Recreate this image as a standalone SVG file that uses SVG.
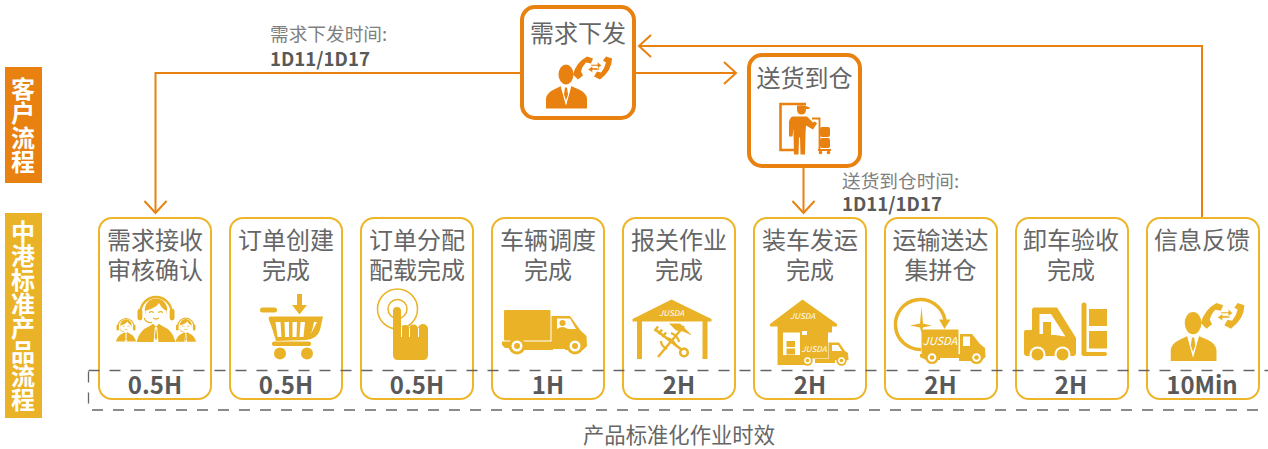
<svg xmlns="http://www.w3.org/2000/svg" width="1268" height="449" viewBox="0 0 1268 449">
<style>
text{font-family:"Noto Sans CJK SC","Noto Sans",sans-serif}
.lbl{font-size:24px;fill:#666;text-anchor:middle}
.dur{font-size:24px;font-weight:700;fill:#595959;text-anchor:middle}
.side{font-size:24px;font-weight:700;fill:#fff;writing-mode:vertical-rl}
.note{font-size:18.67px;fill:#7f7f7f}
.noteb{font-size:18.67px;font-weight:700;fill:#595959}
.cap{font-size:21.33px;fill:#666;text-anchor:middle}
.card{fill:#fff;stroke:#EDB527;stroke-width:2}
.cust{fill:#fff;stroke:#E8810F;stroke-width:4}
.y{fill:#EAB327}
.w{fill:#fff}
.o{fill:#E8810F}
.brand{font-size:8px;font-style:italic;fill:#fff;text-anchor:middle}
.conn{fill:none;stroke:#E8810F;stroke-width:2}
</style>
<defs>
<marker id="arr" markerUnits="userSpaceOnUse" markerWidth="28" markerHeight="28" refX="13" refY="12" orient="auto">
<path d="M1 1 L13 12 L1 23" fill="none" stroke="#E8810F" stroke-width="2"/>
</marker>
<symbol id="caller" viewBox="0 0 65 52" overflow="visible">
<ellipse cx="20" cy="18" rx="7.500" ry="10" fill="currentColor"/>
<path d="M0 52V42Q1 36 8 33L15 29.500 20 48 25 29.500 33 33Q40 36 41 42V52Z" fill="currentColor"/>
<path d="M14.500 29 20 49 25.500 29 24 28 20 31 16 28Z" fill="#fff"/>
<path d="M19 31h2l1 7-2 6-2-6Z" fill="currentColor"/>
<path d="M41 0 47 2 45 7 40 6Q36 10 35 15L37 19 32 23 27 18Q30 6 41 0Z" fill="currentColor"/>
<path d="M60 0 66 2Q66 14 54 23L48 20 51 15 55 16Q59 11 60 6L57 4Z" fill="currentColor"/>
<path d="M45 8h6.500v-2.500l4 3.500-4 3v-2.500H45ZM53 11.500h-6.500V9.500l-4.500 3.500 4.500 3v-2.500H53Z" fill="currentColor" stroke="#fff" stroke-width=".4"/>
</symbol>
<symbol id="agent" viewBox="0 0 40 50" overflow="visible">
<path d="M4 20A16 16 0 0 1 36 20" fill="none" stroke="#EAB327" stroke-width="2.400"/>
<rect x="1" y="16" width="5" height="12" rx="2.500" class="y"/>
<rect x="34" y="16" width="5" height="12" rx="2.500" class="y"/>
<ellipse cx="20" cy="17" rx="11.500" ry="11.500" class="y"/>
<path d="M9 18C13 17 20 15 23 10 25 14 28 17 31 18 31 25 26 31 20 31 14 31 9 25 9 18Z" class="w"/>
<path d="M13 20q2.500-2 4.500 0M22.500 20q2.500-2 4.500 0M17 25.500q3 2 6 0" fill="none" stroke="#EAB327" stroke-width="1.400"/>
<path d="M0 50Q3 38 13 34L17 31.500 20 34.500 23 31.500 27 34Q37 38 40 50Z" class="y"/>
<path d="M18.800 35h2.400l1.300 15h-5Z" class="w"/>
<path d="M19.700 36.500h.6l1 9-1.300 3-1.300-3Z" class="y"/>
<path d="M8 25.500Q9 31 16 30" fill="none" stroke="#EAB327" stroke-width="1.300"/>
</symbol>
<symbol id="wheel" viewBox="-9 -9 18 18" overflow="visible">
<circle r="8.500" class="y"/><circle r="5.500" class="w"/><circle r="3" class="y"/>
</symbol>
</defs>

<g id="side-customer">
<rect x="5" y="67" width="37" height="116" fill="#E8810F"/>
<text class="side" x="23" y="77" style="letter-spacing:.3px">客户流程</text>
</g>
<g id="side-product">
<rect x="5" y="213" width="37" height="205" fill="#EAB327"/>
<text class="side" x="23" y="220">中港标准产品流程</text>
</g>

<g id="connectors">
<path class="conn" d="M521 73H155.500V213" marker-end="url(#arr)"/>
<path class="conn" d="M634 73H736" marker-end="url(#arr)"/>
<path class="conn" d="M803.500 166V213" marker-end="url(#arr)"/>
<path class="conn" d="M1202 218V46H639" marker-end="url(#arr)"/>
</g>

<g id="note-demand"><text class="note" x="270" y="40.500">需求下发时间:</text><text class="noteb" x="270" y="65.500">1D11/1D17</text></g>
<g id="note-delivery"><text class="note" x="842" y="187.500">送货到仓时间:</text><text class="noteb" x="842" y="210.500">1D11/1D17</text></g>

<g id="node-demand">
<rect class="cust" x="522" y="7" width="112" height="111" rx="13"/>
<text class="lbl" x="578" y="41.500">需求下发</text>
<use href="#caller" x="546" y="56.500" width="65" height="52" style="color:#E8810F"/>
</g>

<g id="node-delivery">
<rect class="cust" x="749" y="55" width="111" height="111" rx="13"/>
<text class="lbl" x="804.500" y="86.500">送货到仓</text>
<path d="M806 104H780.500V150H796" fill="none" stroke="#E8810F" stroke-width="2.600"/>
<circle cx="801.500" cy="110" r="4.500" class="o"/><path d="M797 105.500h8l4.500 2v1.500h-12.500Z" class="o"/>
<path d="M793 116.500h14l6 6 2-1 2 2-4 6-7-4-.500 8-.500 21h-4.500l-.500-17h-1l-.500 17h-4.500l-.500-21v-5l-1 8h-3.500v-15Q790.500 116.500 793 116.500Z" class="o"/>
<path d="M812 118.500h7.500V150" fill="none" stroke="#E8810F" stroke-width="1.800"/>
<rect x="820" y="127" width="10" height="10" rx="2" class="o"/><rect x="820" y="138" width="10" height="10" rx="2" class="o"/>
<path d="M818 150h13" stroke="#E8810F" stroke-width="2"/><circle cx="820.500" cy="152.500" r="1.800" class="o"/><circle cx="828.500" cy="152.500" r="1.800" class="o"/>
</g>

<g id="node-1">
<rect class="card" x="99" y="218" width="112" height="181" rx="13"/>
<text class="lbl" x="155" y="248.500">需求接收</text><text class="lbl" x="155" y="278.500">审核确认</text>
<use href="#agent" x="136.500" y="293" width="39" height="49"/>
<use href="#agent" x="116" y="316" width="20" height="26"/>
<use href="#agent" x="175.500" y="316" width="20.500" height="26"/>
<text class="dur" x="155" y="393.500">0.5H</text>
</g>

<g id="node-2">
<rect class="card" x="230" y="218" width="112" height="181" rx="13"/>
<text class="lbl" x="286" y="248.500">订单创建</text><text class="lbl" x="286" y="278.500">完成</text>
<rect x="260" y="307.500" width="17" height="5" rx="2.500" class="y"/>
<path d="M297 294h5v11h5l-7.500 9.500-7.500-9.500h5Z" class="y"/>
<path d="M270 316.500H323L320 330Q317 339 306 340L276 341Q273 330 269 320Q268 317 270 316.500Z" class="y"/>
<path d="M275.500 322h5l1 15h-4ZM284.500 322h4.500v15h-4ZM292.500 322h4.500l-.500 15h-4ZM300.500 322h4.500l-1.500 15h-4ZM314 322h3l-6 12Q313 328 314 322Z" class="w"/>
<rect x="272" y="341.500" width="39" height="4.500" rx="2" class="y"/>
<circle cx="280" cy="353.500" r="6" class="y"/><circle cx="307" cy="353.500" r="6" class="y"/>
<text class="dur" x="286" y="393.500">0.5H</text>
</g>

<g id="node-3">
<rect class="card" x="361" y="218" width="112" height="181" rx="13"/>
<text class="lbl" x="417" y="248.500">订单分配</text><text class="lbl" x="417" y="278.500">配载完成</text>
<circle cx="397.500" cy="309" r="20" fill="none" stroke="#EAB327" stroke-width="1.500"/>
<circle cx="397.500" cy="309" r="9.500" fill="none" stroke="#EAB327" stroke-width="1.500"/>
<path d="M393 311a4 4 0 0 1 8 0V329a4 4 0 0 1 8 0a4.500 4.500 0 0 1 9 0a4.500 4.500 0 0 1 10 0V355q0 5-5 5H398q-5 0-5-5Z" class="y"/>
<path d="M401.500 337V327M409.500 337V328M418.500 337V328" stroke="#fff" stroke-width="1"/>
<text class="dur" x="417" y="393.500">0.5H</text>
</g>

<g id="node-4">
<rect class="card" x="492" y="218" width="112" height="181" rx="13"/>
<text class="lbl" x="548" y="248.500">车辆调度</text><text class="lbl" x="548" y="278.500">完成</text>
<rect x="504" y="310" width="46.500" height="30.500" rx="1" class="y"/>
<path d="M502 341.500h49.500V316H570L581 331 586.500 336 587 346 583 350H515V348H505L502 345Z" class="y"/>
<path d="M557 318.500H570L576 329H557Z" class="w"/>
<circle cx="562.500" cy="323" r="3" class="y"/><path d="M557 329q5-4 11 0Z" class="y"/>
<use href="#wheel" x="508" y="337" width="18" height="18"/>
<use href="#wheel" x="566" y="337" width="18" height="18"/>
<rect x="553" y="349" width="12" height="1.500" class="w"/>
<text class="dur" x="548" y="393.500">1H</text>
</g>

<g id="node-5">
<rect class="card" x="623" y="218" width="112" height="181" rx="13"/>
<text class="lbl" x="679" y="248.500">报关作业</text><text class="lbl" x="679" y="278.500">完成</text>
<path d="M671.500 299.500 711.500 319V321.500H707.500V359H702.500V321.500H642V359H637V321.500H632.500V319Z" class="y"/>
<text class="brand" x="671.500" y="315.500">JUSDA</text>
<g fill="none" stroke="#EAB327">
<path d="M682 350 656 330" stroke-width="2.800"/>
<path d="M658 326.500l-3.500 4.500M662 329.500l-3.500 4.500M666 332.500l-3.500 4.500" stroke-width="2.400"/>
<circle cx="684" cy="352.500" r="3.800" stroke-width="2.600"/>
<path d="M658 357 684 326" stroke-width="2.400"/>
<path d="M667 338q7 2 9 8M671 333q7 3 8 9M667 349q-6-3-6-8" stroke-width="2.200"/>
</g>
<path d="M669 323.500l11 0 12 12-9-4-7-1Z" class="y"/>
<text class="dur" x="679" y="393.500">2H</text>
</g>

<g id="node-6">
<rect class="card" x="754" y="218" width="112" height="181" rx="13"/>
<text class="lbl" x="810" y="248.500">装车发运</text><text class="lbl" x="810" y="278.500">完成</text>
<path d="M802.500 299.500 837 324V326.500H832V332.500H828V339H800V332.500H783V355H800V358H807V365H777.500V326.500H770V324Z" class="y"/>
<text class="brand" x="802.500" y="319">JUSDA</text>
<rect x="802" y="331" width="5" height="4" class="w"/>
<rect x="786.500" y="341" width="8.500" height="6" class="y"/><rect x="786.500" y="348.500" width="8.500" height="6" class="y"/>
<rect x="800" y="339" width="28" height="19.500" class="y"/>
<text class="brand" x="814" y="351.500">JUSDA</text>
<path d="M828.500 342.500H839L845 351 848 353 848.500 360H835V363H815V359H828.500Z" class="y"/>
<path d="M832 345H838L842 351H832Z" class="w"/>
<use href="#wheel" x="802" y="355" width="11" height="11"/>
<use href="#wheel" x="836" y="355" width="11" height="11"/>
<text class="dur" x="810" y="393.500">2H</text>
</g>

<g id="node-7">
<rect class="card" x="885" y="218" width="112" height="181" rx="13"/>
<text class="lbl" x="940.500" y="248.500">运输送达</text><text class="lbl" x="940.500" y="278.500">集拼仓</text>
<path d="M921 349.500A25 25 0 1 1 945 320" fill="none" stroke="#EAB327" stroke-width="3.500"/>
<path d="M939 319.500H950.500L944.500 329Z" class="y"/>
<path d="M921.500 306.500 923 323.500 931.500 325.500 923 327.500 921.500 333 920 327.500 910 325.500 920 323.500Z" class="y"/>
<rect x="921.500" y="329.500" width="37" height="24.500" rx="1" class="y"/>
<text class="brand" x="940" y="345" style="font-size:11px">JUSDA</text>
<path d="M920 354H960V334H972L980 344 985 348 985.500 357 981 361H959V358H940V360H926L920 357Z" class="y"/>
<path d="M963 336.500H970V346H963Z" class="w"/>
<use href="#wheel" x="925" y="350.500" width="14" height="14"/>
<use href="#wheel" x="969.500" y="350.500" width="14" height="14"/>
<text class="dur" x="940.500" y="393.500">2H</text>
</g>

<g id="node-8">
<rect class="card" x="1016" y="218" width="112" height="181" rx="13"/>
<text class="lbl" x="1071" y="248.500">卸车验收</text><text class="lbl" x="1071" y="278.500">完成</text>
<path d="M1034 307.500H1057L1076 338V353Q1076 356 1073 356H1027Q1024 356 1024 353V332Q1024 330 1026 330H1032V310Q1032 307.500 1034 307.500Z" class="y"/>
<path d="M1039.500 314H1051L1065.500 336.500 1055 335H1051V322H1043V334H1039.500Z" class="w"/>
<circle cx="1037.500" cy="354.500" r="8" class="w"/><circle cx="1062.500" cy="354.500" r="8" class="w"/>
<circle cx="1037.500" cy="354.500" r="6" class="y"/><circle cx="1062.500" cy="354.500" r="6" class="y"/>
<path d="M1081.500 305a2.500 2.500 0 0 1 5 0V352H1105q2 0 2 2t-2 2H1084q-2.500 0-2.500-2.500Z" class="y"/>
<rect x="1089" y="309" width="18" height="17" class="y"/><rect x="1089" y="331" width="18" height="17.500" class="y"/>
<text class="dur" x="1071" y="393.500">2H</text>
</g>

<g id="node-9">
<rect class="card" x="1147" y="218" width="112" height="181" rx="13"/>
<text class="lbl" x="1202" y="248.500">信息反馈</text>
<use href="#caller" x="1170" y="303" width="74" height="58" style="color:#EAB327"/>
<text class="dur" x="1202" y="393.500">10Min</text>
</g>

<rect id="dash-frame" x="88.500" y="370.500" width="1300" height="39.500" fill="none" stroke="#666" stroke-width="1.300" stroke-dasharray="11 10"/>

<text class="cap" x="679" y="443">产品标准化作业时效</text>
</svg>
